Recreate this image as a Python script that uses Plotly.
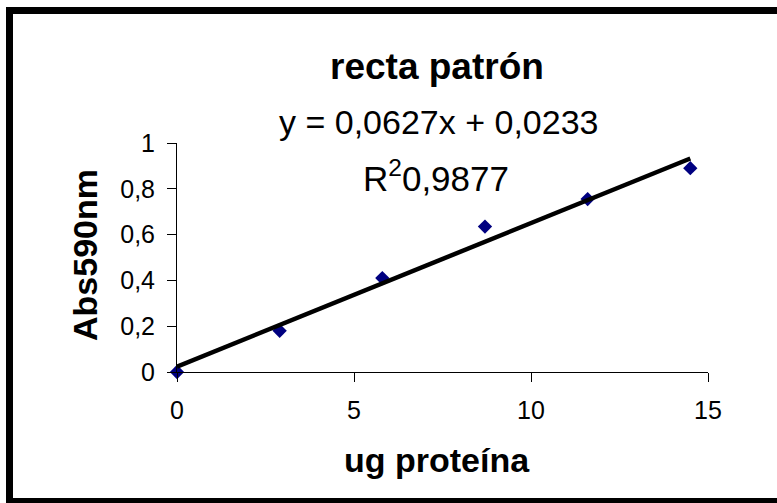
import plotly.graph_objects as go

# Calibration data: protein amount vs absorbance at 590 nm
ug_proteina = [0, 2.9, 5.8, 8.7, 11.6, 14.5]
abs590 = [0, 0.18, 0.41, 0.635, 0.755, 0.89]

# Linear fit reported on the chart
pendiente = 0.0627
ordenada = 0.0233
r2 = "0,9877"

x_ticks = [0, 5, 10, 15]
y_ticks = [0, 0.2, 0.4, 0.6, 0.8, 1]
y_tick_text = ["0", "0,2", "0,4", "0,6", "0,8", "1"]

W, H = 777, 503
L, R, T, B = 177, 69, 143, 131
pw, ph = W - L - R, H - T - B


def px(x):
    return (x - L) / pw


def py(y):
    return (H - B - y) / ph


fit_x = [min(ug_proteina), max(ug_proteina)]
fit_y = [pendiente * v + ordenada for v in fit_x]

fig = go.Figure()
fig.add_trace(go.Scatter(
    x=ug_proteina, y=abs590, mode="markers",
    marker=dict(symbol="diamond", size=11, color="#000080"),
    cliponaxis=False, showlegend=False,
))
fig.add_trace(go.Scatter(
    x=fit_x, y=fit_y, mode="lines",
    line=dict(color="black", width=4.5),
    cliponaxis=False, showlegend=False,
))

font = "Liberation Sans, Arial, sans-serif"

fig.update_layout(
    width=W, height=H,
    margin=dict(l=L, r=R, t=T, b=B, pad=0),
    paper_bgcolor="white", plot_bgcolor="white",
    font=dict(family=font, color="black"),
    xaxis=dict(
        range=[0, 15], tickvals=x_ticks, ticks="outside", ticklen=9,
        tickcolor="black", tickwidth=1, showline=True, linecolor="black",
        linewidth=1, showgrid=False, zeroline=False,
        tickfont=dict(size=25), ticklabelstandoff=7,
    ),
    yaxis=dict(
        range=[0, 1], tickvals=y_ticks, ticktext=y_tick_text, ticks="outside",
        ticklen=9, tickcolor="black", tickwidth=1, showline=True,
        linecolor="black", linewidth=1, showgrid=False, zeroline=False,
        tickfont=dict(size=25), ticklabelstandoff=7,
    ),
    shapes=[dict(
        type="rect", xref="paper", yref="paper",
        x0=px(9.5), x1=px(800), y0=py(10.5), y1=py(501.5),
        line=dict(color="black", width=7), fillcolor="rgba(0,0,0,0)",
    )],
    annotations=[
        dict(text="<b>recta patrón</b>", x=px(437), y=py(66), xref="paper",
             yref="paper", showarrow=False, font=dict(size=37),
             xanchor="center", yanchor="middle"),
        dict(text=f"y = {pendiente:.4f}x + {ordenada:.4f}".replace(".", ","),
             x=px(438), y=py(122), xref="paper", yref="paper",
             showarrow=False, font=dict(size=34),
             xanchor="center", yanchor="middle"),
        dict(text=f"R<sup>2</sup>{r2}", x=px(436), y=py(176), xref="paper",
             yref="paper", showarrow=False, font=dict(size=35),
             xanchor="center", yanchor="middle"),
        dict(text="<b>ug proteína</b>", x=px(437), y=py(460), xref="paper",
             yref="paper", showarrow=False, font=dict(size=34),
             xanchor="center", yanchor="middle"),
        dict(text="<b>Abs590nm</b>", x=px(85), y=py(255), xref="paper",
             yref="paper", showarrow=False, font=dict(size=34), textangle=-90,
             xanchor="center", yanchor="middle"),
    ],
)

fig.write_html("out.html")
